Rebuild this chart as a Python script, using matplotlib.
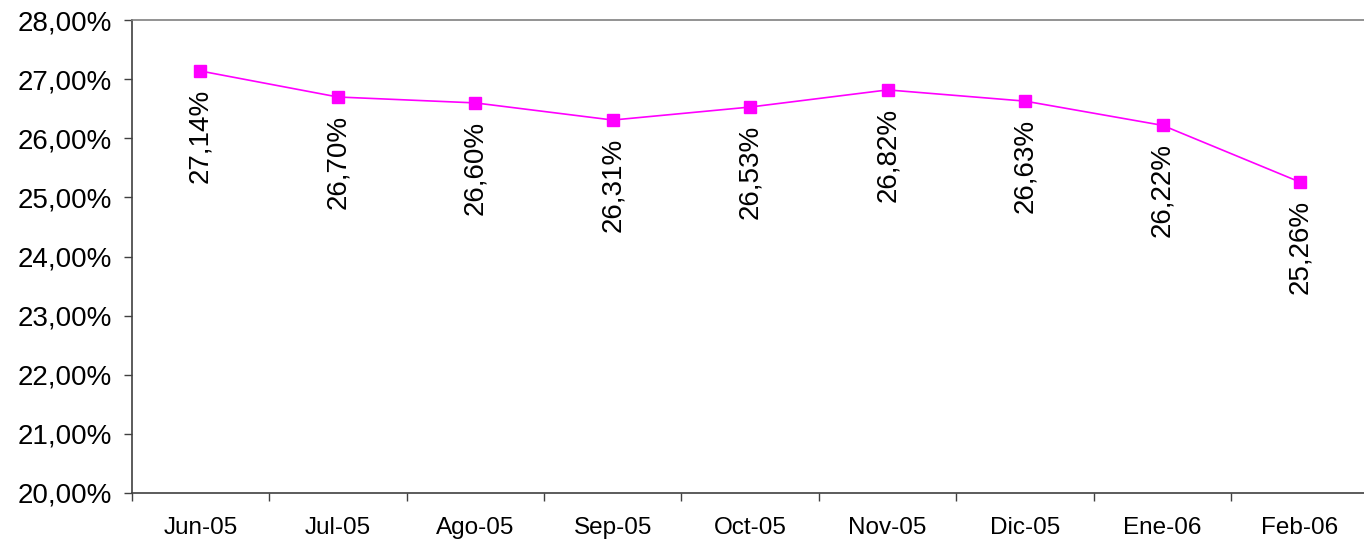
import matplotlib
matplotlib.use("Agg")
import matplotlib.pyplot as plt
import numpy as np

# data
months = ["Jun-05", "Jul-05", "Ago-05", "Sep-05", "Oct-05", "Nov-05", "Dic-05", "Ene-06", "Feb-06"]
rates = [27.14, 26.70, 26.60, 26.31, 26.53, 26.82, 26.63, 26.22, 25.26]
y_ticks = [20, 21, 22, 23, 24, 25, 26, 27, 28]

plt.rcParams['font.family'] = ['Liberation Sans', 'DejaVu Sans']


def pct(v):
    # Spanish style: comma as decimal separator
    return '{:.2f}%'.format(v).replace('.', ',')


fig = plt.figure(figsize=(13.64, 5.45), dpi=100)
ax = fig.add_axes([0.0965, 0.0955, 0.907, 0.8675])

x = np.arange(len(months))
ax.plot(x, rates, color='#FF00FF', lw=1.2, marker='s', markersize=8,
        markeredgecolor='#FF00FF', markerfacecolor='#FF00FF', zorder=3)

# value labels, rotated, below each point
for xi, v in zip(x, rates):
    ax.annotate(pct(v), xy=(xi, v), xytext=(0, -13), textcoords='offset points',
                rotation=90, ha='center', va='top', fontsize=20)

ax.set_xlim(-0.5, len(months) - 0.5)
ax.set_ylim(20, 28)
ax.set_yticks(y_ticks)
ax.set_yticklabels([pct(t) for t in y_ticks])

# category labels centred, ticks between categories (Excel style)
ax.set_xticks(x)
ax.set_xticklabels(months)
ax.set_xticks(np.arange(-0.5, len(months)), minor=True)
ax.tick_params(axis='x', which='major', length=0, pad=17, labelsize=17.5)
ax.tick_params(axis='x', which='minor', length=6, width=1, color='#404040', direction='out')
ax.tick_params(axis='y', length=6, width=1, color='#404040', direction='out', pad=8, labelsize=20)

for side in ['left', 'bottom']:
    ax.spines[side].set_color('#404040')
    ax.spines[side].set_linewidth(1.2)
for side in ['top', 'right']:
    ax.spines[side].set_color('#808080')
    ax.spines[side].set_linewidth(1.2)

fig.savefig('out.png', dpi=100)
